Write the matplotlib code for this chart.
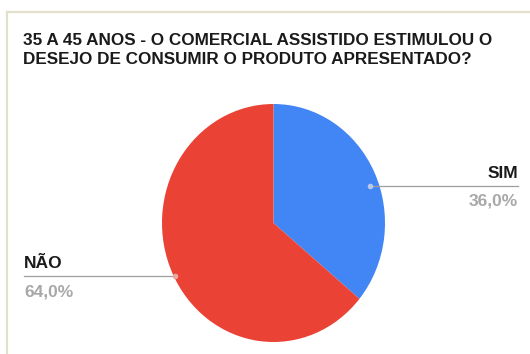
import matplotlib.pyplot as plt
from matplotlib.lines import Line2D

# Data
labels = ['SIM', 'NÃO']
shares = [36.0, 64.0]
colors = ['#4285f4', '#ea4335']
title = '35 A 45 ANOS - O COMERCIAL ASSISTIDO ESTIMULOU O\nDESEJO DE CONSUMIR O PRODUTO APRESENTADO?'

W, H = 530, 354
plt.rcParams['font.family'] = ['Liberation Sans', 'DejaVu Sans']
fig = plt.figure(figsize=(W / 100, H / 100), dpi=100)
fig.patch.set_facecolor('white')


def fx(x):
    return x / W


def fy(y):
    return 1 - y / H


# frame edges (top and left)
fig.add_artist(Line2D([fx(7), fx(W)], [fy(12), fy(12)], color='#e2dfcc', lw=1.6))
fig.add_artist(Line2D([fx(7), fx(7)], [fy(12), fy(H)], color='#e2dfcc', lw=1.6))

fig.text(fx(23), fy(50), title, fontsize=12.3, fontweight='bold', color='#1a1a1a',
         ha='left', va='center', linespacing=1.35)

# pie
ax = fig.add_axes([fx(162), fy(342), fx(385) - fx(162), (342 - 104) / H])
ax.pie(shares, colors=colors, startangle=90, counterclock=False,
       wedgeprops=dict(linewidth=0))
ax.set_aspect('auto')
ax.set_xlim(-1, 1)
ax.set_ylim(-1, 1)
ax.axis('off')

# leader lines and labels
line_col = '#9e9e9e'
fig.add_artist(Line2D([fx(370), fx(518)], [fy(186), fy(186)], color=line_col, lw=0.9))
fig.add_artist(Line2D([fx(370)], [fy(186)], marker='o', ms=3, color='#b8c8e8', lw=0))
fig.text(fx(518), fy(173), labels[0], fontsize=12.5, fontweight='bold', color='#1a1a1a',
         ha='right', va='center')
fig.text(fx(518), fy(201), f'{shares[0]:.1f}%'.replace('.', ','), fontsize=12.5,
         fontweight='bold', color='#a8a8a8', ha='right', va='center')

fig.add_artist(Line2D([fx(24), fx(175)], [fy(276), fy(276)], color=line_col, lw=0.9))
fig.add_artist(Line2D([fx(175)], [fy(276)], marker='o', ms=3, color='#e8a8a0', lw=0))
fig.text(fx(24), fy(263), labels[1], fontsize=12.5, fontweight='bold', color='#1a1a1a',
         ha='left', va='center')
fig.text(fx(24), fy(292), f'{shares[1]:.1f}%'.replace('.', ','), fontsize=12.5,
         fontweight='bold', color='#a8a8a8', ha='left', va='center')

fig.savefig('out.png', dpi=100, facecolor='white')
